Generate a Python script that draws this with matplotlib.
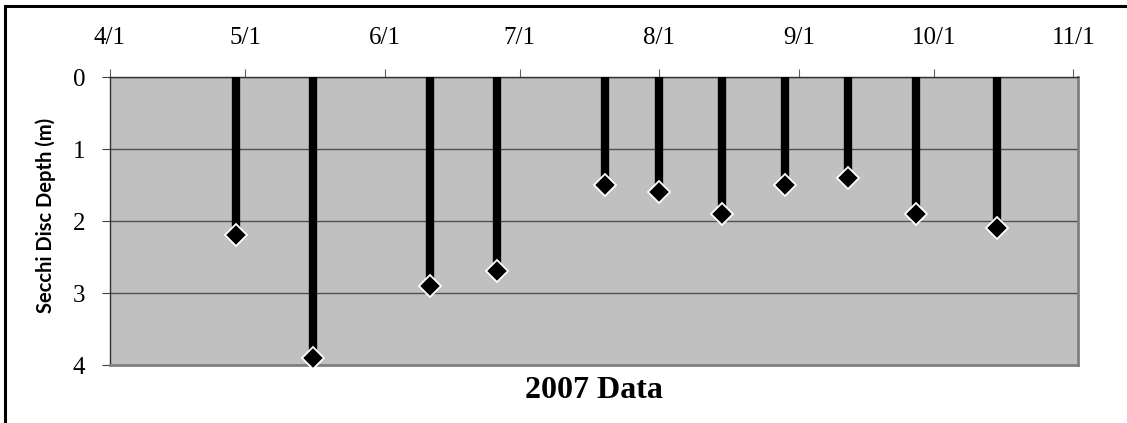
import datetime as dt
import matplotlib
matplotlib.use('Agg')
import matplotlib.pyplot as plt
from matplotlib.patches import Rectangle

# sample dates and secchi depths (m), 2007
dates = [dt.date(2007, 4, 29), dt.date(2007, 5, 16), dt.date(2007, 6, 11),
         dt.date(2007, 6, 26), dt.date(2007, 7, 20), dt.date(2007, 8, 1),
         dt.date(2007, 8, 15), dt.date(2007, 8, 29), dt.date(2007, 9, 12),
         dt.date(2007, 9, 27), dt.date(2007, 10, 15)]
depths = [2.2, 3.9, 2.9, 2.7, 1.5, 1.6, 1.9, 1.5, 1.4, 1.9, 2.1]

tick_dates = [dt.date(2007, m, 1) for m in range(4, 12)]
tick_labels = ['4/1', '5/1', '6/1', '7/1', '8/1', '9/1', '10/1', '11/1']
y_ticks = [0, 1, 2, 3, 4]

serif = 'Liberation Serif'

fig = plt.figure(figsize=(11.27, 4.23), dpi=100)
ax = fig.add_axes([110 / 1127, 1 - 365 / 423, (1078 - 110) / 1127, (365 - 77) / 423])

ax.set_facecolor('#c0c0c0')
ax.vlines(dates, 0, depths, color='black', linewidth=6, zorder=3)
ax.plot(dates, depths, linestyle='none', marker='D', markersize=11,
        markerfacecolor='black', markeredgecolor='white', markeredgewidth=1.3,
        zorder=4, clip_on=False)

ax.set_xlim(dt.date(2007, 4, 1), dt.date(2007, 11, 2))
ax.set_ylim(4, 0)
ax.set_xticks(tick_dates)
ax.set_xticklabels(tick_labels, fontname=serif, fontsize=18)
ax.set_yticks(y_ticks)
ax.set_yticklabels([str(v) for v in y_ticks], fontname=serif, fontsize=18)
ax.xaxis.tick_top()
ax.tick_params(axis='x', direction='out', length=6, width=0.8, color='#606060', pad=14)
ax.tick_params(axis='y', direction='out', length=6, width=0.8, color='#404040', pad=12)

ax.grid(axis='y', color='#505050', linewidth=1.0)
ax.set_axisbelow(True)

for side in ['left', 'top']:
    ax.spines[side].set_color('#303030')
    ax.spines[side].set_linewidth(1.0)
for side in ['right', 'bottom']:
    ax.spines[side].set_color('#808080')
    ax.spines[side].set_linewidth(2.0)

ax.set_ylabel('Secchi Disc Depth (m)', fontname='Lato', fontweight='bold', fontsize=14.5)
ax.yaxis.set_label_coords(-0.056, 0.52)
ax.set_xlabel('2007 Data', fontname=serif, fontweight='bold', fontsize=23)
ax.xaxis.set_label_position('bottom')
ax.xaxis.labelpad = 8

# outer chart frame
fig.patches.append(Rectangle((5 / 1127, -0.1), 1.2, (423 - 6) / 423 + 0.1,
                             transform=fig.transFigure, fill=False,
                             edgecolor='black', linewidth=2.2))

fig.savefig('out.png', dpi=100)
